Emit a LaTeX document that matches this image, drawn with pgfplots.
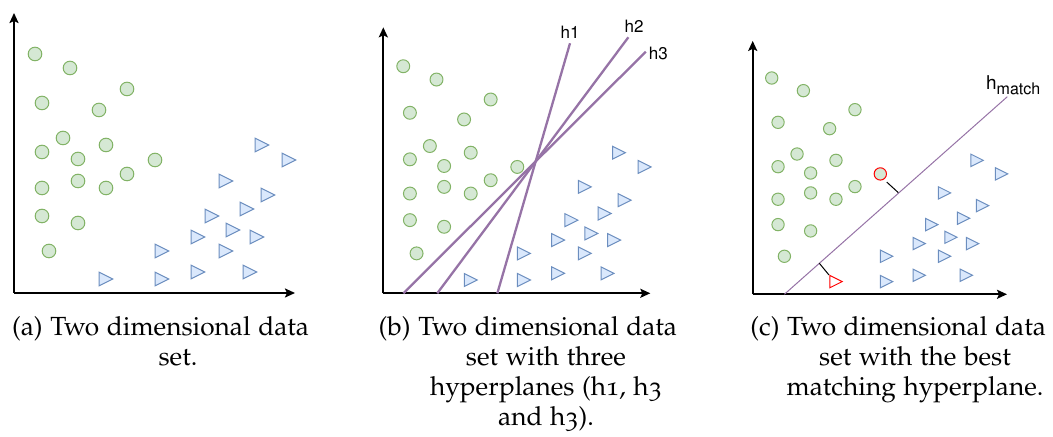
\documentclass[border=0pt]{standalone}
\usepackage[T1]{fontenc}
\usepackage[osf]{mathpazo}
\usepackage{pgfplots}
\usepackage{pgfplotstable}
\pgfplotsset{compat=1.18}
\usetikzlibrary{arrows.meta}
\definecolor{gfill}{HTML}{D5E8D4}
\definecolor{gdraw}{HTML}{82B366}
\definecolor{bfill}{HTML}{DAE8FC}
\definecolor{bdraw}{HTML}{6C8EBF}
\definecolor{purp}{HTML}{9673A6}

\pgfdeclareplotmark{rtri}{%
  \pgfpathmoveto{\pgfqpoint{\pgfplotmarksize}{0pt}}%
  \pgfpathlineto{\pgfqpoint{-\pgfplotmarksize}{\pgfplotmarksize}}%
  \pgfpathlineto{\pgfqpoint{-\pgfplotmarksize}{-\pgfplotmarksize}}%
  \pgfpathclose\pgfusepathqfillstroke}

\pgfplotstableread{
x y
21 239
56 225
113 204
28 190
85 183
49 155
92 148
28 141
64 134
141 133
113 119
64 112
28 105
92 105
28 77
64 70
35 42
}\circles

\pgfplotstableread{
x y
21 239
56 225
113 204
28 190
85 183
49 155
92 148
28 141
64 134
113 119
64 112
28 105
92 105
28 77
64 70
35 42
}\circlesc

\pgfplotstableread{
x y
248 148
275 133
212 112
254 98
233 84
198 77
219 63
184 56
243 56
148 42
212 42
92 14
148 14
184 21
236 21
}\triangles

\pgfplotstableread{
x y
248 148
275 133
212 112
254 98
233 84
198 77
219 63
184 56
243 56
148 42
212 42
148 14
184 21
236 21
}\trianglesc

\pgfplotsset{
  panel/.style={
    scale only axis, axis lines=left,
    xmin=0, xmax=281, ymin=0, ymax=280,
    xtick=\empty, ytick=\empty, clip=false, anchor=origin,
    axis line style={line width=1pt, -{Stealth[length=5pt,width=4.5pt,inset=1pt]}},
  },
  circ/.style={only marks, mark=*, mark options={draw=gdraw, fill=gfill, line width=0.5pt}},
  tri/.style={only marks, mark=rtri, mark options={draw=bdraw, fill=bfill, line width=0.5pt}},
}

\newlength\capw
\newcommand\capfs{12}
\AtBeginDocument{%
  \settowidth\capw{\fontsize{10}{12}\selectfont (a) Two dimensional data}%
  \pgfmathsetmacro\capfs{10*148.5/\capw}%
}
\newcommand\capfont{\fontsize{\capfs}{15}\selectfont}
\newcommand\hfont{\fontfamily{phv}\selectfont}

\begin{document}
\begin{tikzpicture}
\useasboundingbox (0,0) rectangle (526.5pt,218.5pt);

% Panel (a)
\begin{axis}[panel, at={(7pt,72pt)}, width=140.5pt, height=140pt]
  \addplot[circ, mark size=3.4pt] table {\circles};
  \addplot[tri, mark size=3.4pt] table {\triangles};
\end{axis}

% Panel (b)
\begin{axis}[panel, at={(191.65pt,71.85pt)}, width=133.475pt, height=133pt]
  \addplot[circ, mark size=3.23pt] table {\circles};
  \addplot[tri, mark size=3.23pt] table {\triangles};
  \addplot[purp, line width=1.15pt, no marks] coordinates {(120,0) (196.5,263.2)};
  \addplot[purp, line width=1.15pt, no marks] coordinates {(56.8,0) (257.9,269.5)};
  \addplot[purp, line width=1.15pt, no marks] coordinates {(21.1,0) (276.2,254.3)};
\end{axis}
\node[inner sep=0] at (285pt,202.35pt) {\hfont\fontsize{8.5}{10}\selectfont h1};
\node[inner sep=0] at (317pt,205.5pt) {\hfont\fontsize{8.5}{10}\selectfont h2};
\node[inner sep=0] at (329.15pt,191.85pt) {\hfont\fontsize{8.5}{10}\selectfont h3};

% Panel (c)
\begin{axis}[panel, at={(376.35pt,71.35pt)}, width=127.15pt, height=126.7pt]
  \addplot[circ, mark size=3.08pt] table {\circlesc};
  \addplot[tri, mark size=3.08pt] table {\trianglesc};
  \addplot[purp, line width=0.5pt, no marks] coordinates {(35,0) (281.3,218.3)};
  \addplot[black, line width=0.5pt, no marks] coordinates {(148.1,124.0) (160.9,112.3)};
  \addplot[black, line width=0.5pt, no marks] coordinates {(73.6,34.3) (84.3,21.3)};
  \addplot[only marks, mark=*, mark size=3.08pt, mark options={draw=red, fill=gfill, line width=0.5pt}] coordinates {(141,133)};
  \addplot[only marks, mark=rtri, mark size=3.08pt, mark options={draw=red, fill=white, line width=0.5pt}] coordinates {(92,14)};
\end{axis}
\node[anchor=base west, inner sep=0] at (492.85pt,173.5pt) {\hfont\fontsize{9.5}{11}\selectfont h\raisebox{-2.5pt}{\fontsize{8}{9}\selectfont match}};

% Captions
\node[anchor=base west, inner sep=0] at (5.85pt,50.5pt) {\capfont (a) Two dimensional data};
\node[anchor=base, inner sep=0] at (89pt,35.5pt) {\capfont set.};

\node[anchor=base west, inner sep=0] at (189.15pt,50.5pt) {\capfont (b) Two dimensional data};
\node[anchor=base, inner sep=0] at (273pt,35.5pt) {\capfont set with three};
\node[anchor=base, inner sep=0] at (273pt,20.5pt) {\capfont hyperplanes (h1, h3};
\node[anchor=base, inner sep=0] at (273pt,5.5pt) {\capfont and h3).};

\node[anchor=base west, inner sep=0] at (375pt,50.5pt) {\capfont (c) Two dimensional data};
\node[anchor=base, inner sep=0] at (457.5pt,35.5pt) {\capfont set with the best};
\node[anchor=base, inner sep=0] at (457.5pt,20.5pt) {\capfont matching hyperplane.};
\end{tikzpicture}
\end{document}
